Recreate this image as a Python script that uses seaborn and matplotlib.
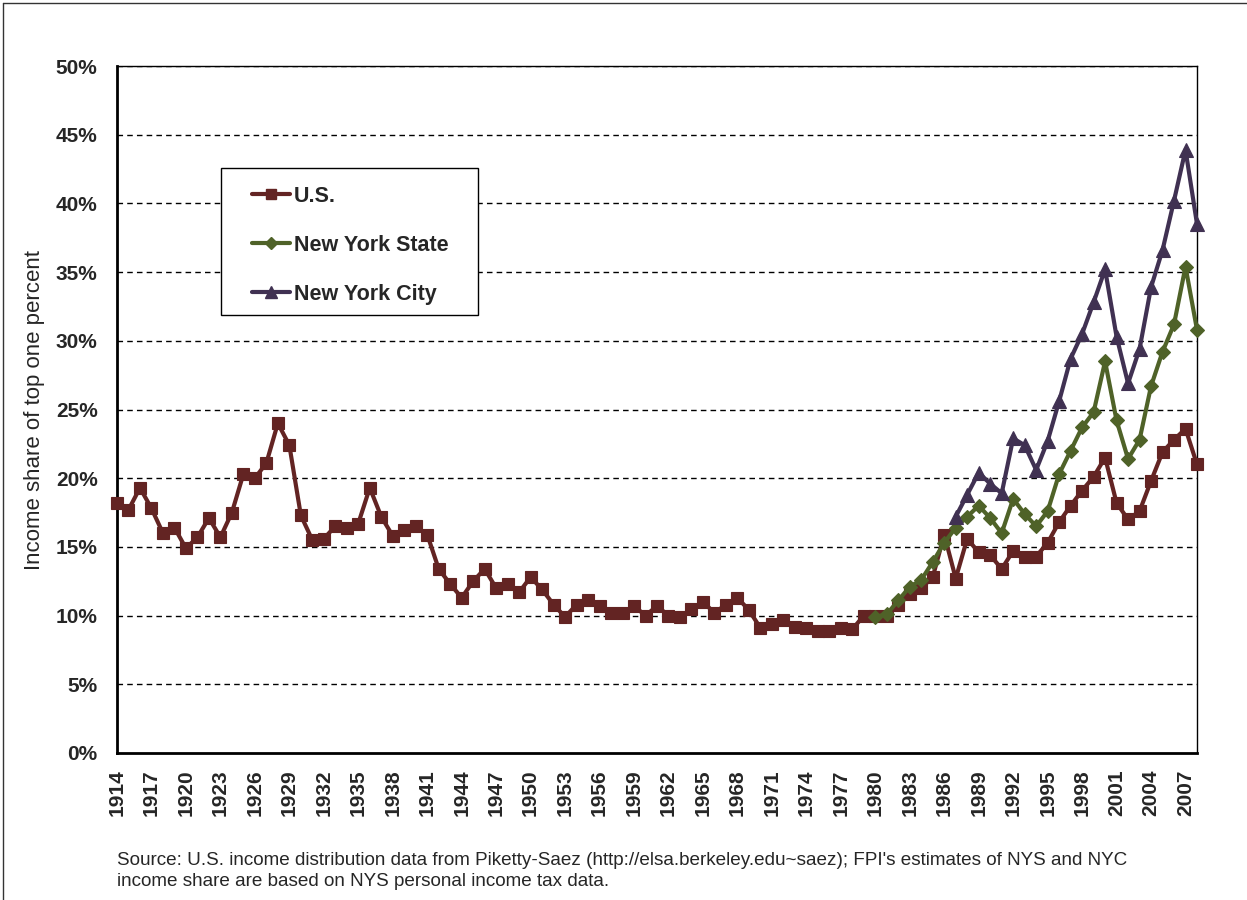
import numpy as np
import pandas as pd
import matplotlib
matplotlib.use('Agg')
import matplotlib.pyplot as plt
from matplotlib.lines import Line2D
from matplotlib.patches import Rectangle
import seaborn as sns

# --- data (percent of income held by top 1%) ---
us_years = list(range(1914, 2009))
us_share = [
    18.2, 17.7, 19.3, 17.8, 16.0, 16.4, 14.9, 15.7, 17.1, 15.7,   # 1914-1923
    17.5, 20.3, 20.0, 21.1, 24.0, 22.4, 17.3, 15.5, 15.6, 16.5,   # 1924-1933
    16.4, 16.7, 19.3, 17.2, 15.8, 16.2, 16.5, 15.9, 13.4, 12.3,   # 1934-1943
    11.3, 12.5, 13.4, 12.0, 12.3, 11.7, 12.8, 11.9, 10.8, 9.9,    # 1944-1953
    10.8, 11.1, 10.7, 10.2, 10.2, 10.7, 10.0, 10.7, 10.0, 9.9,    # 1954-1963
    10.5, 11.0, 10.2, 10.8, 11.3, 10.4, 9.1, 9.4, 9.7, 9.2,       # 1964-1973
    9.1, 8.9, 8.9, 9.1, 9.0, 10.0, 10.0, 10.0, 10.8, 11.6,        # 1974-1983
    12.0, 12.8, 15.9, 12.7, 15.6, 14.6, 14.4, 13.4, 14.7, 14.3,   # 1984-1993
    14.3, 15.3, 16.8, 18.0, 19.1, 20.1, 21.5, 18.2, 17.0, 17.6,   # 1994-2003
    19.8, 21.9, 22.8, 23.6, 21.0,                                 # 2004-2008
]

nys_years = list(range(1980, 2009))
nys_share = [
    9.9, 10.1, 11.1, 12.1, 12.6, 13.9, 15.3, 16.4, 17.2, 18.0,    # 1980-1989
    17.1, 16.0, 18.5, 17.4, 16.5, 17.6, 20.3, 22.0, 23.7, 24.8,   # 1990-1999
    28.5, 24.2, 21.4, 22.8, 26.7, 29.2, 31.2, 35.4, 30.8,         # 2000-2008
]

nyc_years = list(range(1987, 2009))
nyc_share = [
    17.2, 18.8, 20.4, 19.6, 18.9, 22.9, 22.4, 20.6, 22.7, 25.6,   # 1987-1996
    28.7, 30.5, 32.8, 35.2, 30.3, 26.9, 29.4, 33.9, 36.6, 40.2,   # 1997-2006
    43.9, 38.5,                                                   # 2007-2008
]

series_names = ['U.S.', 'New York State', 'New York City']
colors = ['#632423', '#4F6228', '#403152']
markers = ['s', 'D', '^']
msizes = [8, 7.5, 10]

frames = []
for name, yrs, vals in zip(series_names,
                           [us_years, nys_years, nyc_years],
                           [us_share, nys_share, nyc_share]):
    frames.append(pd.DataFrame({'Year': yrs, 'Share': vals, 'Region': name}))
df = pd.concat(frames, ignore_index=True)

sns.set_style('white')
plt.rcParams['font.family'] = ['Liberation Sans', 'DejaVu Sans']

fig = plt.figure(figsize=(12.47, 9.0), dpi=100)
ax = fig.add_axes([117 / 1247, 1 - 753 / 900, (1197 - 117) / 1247, (753 - 66) / 900])

# dashed gridlines
for v in range(5, 55, 5):
    ax.axhline(v, color='black', lw=1.0, ls=(0, (4, 3)), zorder=1)

for name, c, m, ms in zip(series_names, colors, markers, msizes):
    sub = df[df['Region'] == name]
    sns.lineplot(data=sub, x='Year', y='Share', ax=ax, color=c, lw=3.0,
                 marker=m, markersize=ms, markeredgecolor=c, markerfacecolor=c,
                 markeredgewidth=0.8, clip_on=False, zorder=3, legend=False,
                 estimator=None)

ax.set_xlim(1914, 2008)
ax.set_ylim(0, 50)
ax.set_yticks(range(0, 55, 5))
ax.set_yticklabels([f'{v}%' for v in range(0, 55, 5)], fontsize=15, fontweight='bold')
tick_years = list(range(1914, 2008, 3))
ax.set_xticks(tick_years)
ax.set_xticklabels([str(y) for y in tick_years], rotation=90, fontsize=15,
                   fontweight='bold')
ax.tick_params(axis='x', length=0, pad=12)
ax.tick_params(axis='y', length=0, pad=14)
ax.set_xlabel('')
ax.set_ylabel('Income share of top one percent', fontsize=16)
ax.yaxis.set_label_coords(-0.067, 0.5)

for side in ['top', 'right']:
    ax.spines[side].set_linewidth(1.0)
    ax.spines[side].set_color('black')
for side in ['left', 'bottom']:
    ax.spines[side].set_linewidth(2.0)
    ax.spines[side].set_color('black')

# legend box drawn separately so the entries can sit inset like the original
ax.add_patch(Rectangle(((221 - 117) / 1080, (753 - 315) / 687),
                       (478 - 221) / 1080, (315 - 168) / 687,
                       transform=ax.transAxes, facecolor='white',
                       edgecolor='black', lw=1.0, zorder=4))
handles = [Line2D([0], [0], color=c, lw=3.0, marker=m, markersize=ms - 1,
                  markerfacecolor=c, markeredgecolor=c)
           for c, m, ms in zip(colors, markers, msizes)]
leg = ax.legend(handles, series_names, loc='upper left',
                bbox_to_anchor=((252 - 117) / 1080, (753 - 186) / 687),
                frameon=False, prop={'weight': 'bold', 'size': 15.5},
                handlelength=1.75, handletextpad=0.2, labelspacing=1.3,
                borderpad=0, borderaxespad=0)
leg.set_zorder(5)

fig.text(117 / 1247, 1 - 871 / 900,
         "Source: U.S. income distribution data from Piketty-Saez (http://elsa.berkeley.edu~saez); "
         "FPI's estimates of NYS and NYC\nincome share are based on NYS personal income tax data.",
         fontsize=13.6, va='center', ha='left', linespacing=1.3)

# outer chart frame
fig.add_artist(Line2D([3 / 1247, 1], [1 - 3 / 900, 1 - 3 / 900], color='#333333', lw=1.0))
fig.add_artist(Line2D([3 / 1247, 3 / 1247], [0, 1 - 3 / 900], color='#333333', lw=1.0))

fig.savefig('out.png', dpi=100)
